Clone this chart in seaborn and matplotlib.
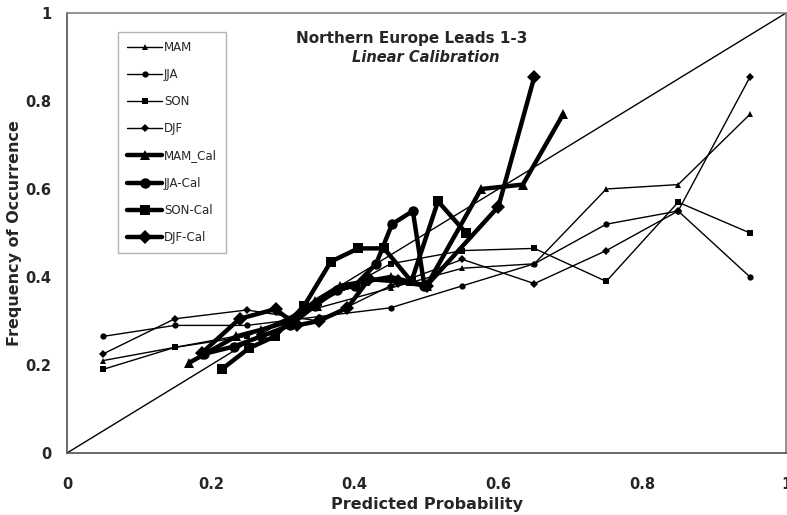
import matplotlib
matplotlib.use("Agg")
import matplotlib.pyplot as plt
import seaborn as sns
import numpy as np

# ---- data ----
prob_bins = [0.05, 0.15, 0.25, 0.35, 0.45, 0.55, 0.65, 0.75, 0.85, 0.95]
mam = [0.21, 0.24, 0.27, 0.33, 0.375, 0.42, 0.43, 0.60, 0.61, 0.77]
jja = [0.265, 0.29, 0.29, 0.31, 0.33, 0.38, 0.43, 0.52, 0.55, 0.40]
son = [0.19, 0.24, 0.265, 0.34, 0.43, 0.46, 0.465, 0.39, 0.57, 0.50]
djf = [0.225, 0.305, 0.325, 0.30, 0.38, 0.44, 0.385, 0.46, 0.55, 0.855]

mam_cal_x = [0.17, 0.235, 0.27, 0.31, 0.345, 0.38, 0.415, 0.45, 0.50, 0.576, 0.634, 0.69]
mam_cal_y = [0.205, 0.265, 0.28, 0.30, 0.345, 0.38, 0.39, 0.40, 0.38, 0.60, 0.61, 0.77]
jja_cal_x = [0.19, 0.232, 0.27, 0.31, 0.345, 0.375, 0.40, 0.43, 0.452, 0.481, 0.497]
jja_cal_y = [0.225, 0.242, 0.265, 0.29, 0.335, 0.37, 0.38, 0.43, 0.52, 0.55, 0.38]
son_cal_x = [0.215, 0.253, 0.289, 0.33, 0.367, 0.405, 0.441, 0.479, 0.516, 0.555]
son_cal_y = [0.19, 0.238, 0.265, 0.335, 0.435, 0.465, 0.465, 0.39, 0.572, 0.50]
djf_cal_x = [0.188, 0.24, 0.29, 0.32, 0.35, 0.39, 0.42, 0.46, 0.50, 0.60, 0.65]
djf_cal_y = [0.228, 0.305, 0.327, 0.29, 0.30, 0.33, 0.395, 0.39, 0.38, 0.56, 0.855]

ticks = [0, 0.2, 0.4, 0.6, 0.8, 1]
tick_labels = ["0", "0.2", "0.4", "0.6", "0.8", "1"]

title = "Northern Europe Leads 1-3"
subtitle = "Linear Calibration"

sns.set_theme(style="white")
plt.rcParams['font.family'] = ['DejaVu Sans']

W, H = 787, 515
fig = plt.figure(figsize=(W / 100, H / 100), dpi=100)
ax = fig.add_axes([67 / W, 1 - 453 / H, (786 - 67) / W, (453 - 13) / H])

# diagonal reference
ax.plot([0, 1], [0, 1], color="black", lw=1.0, zorder=1)

thin = dict(color="black", lw=1.0, markersize=4.5, sort=False, estimator=None)
thick = dict(color="black", lw=3.2, markersize=7.5, sort=False, estimator=None)

sns.lineplot(x=prob_bins, y=mam, marker="^", label="MAM", ax=ax, markeredgewidth=0, **thin)
sns.lineplot(x=prob_bins, y=jja, marker="o", label="JJA", ax=ax, markeredgewidth=0, **thin)
sns.lineplot(x=prob_bins, y=son, marker="s", label="SON", ax=ax, markeredgewidth=0, **thin)
sns.lineplot(x=prob_bins, y=djf, marker="D", label="DJF", ax=ax, markeredgewidth=0, **thin)
sns.lineplot(x=mam_cal_x, y=mam_cal_y, marker="^", label="MAM_Cal", ax=ax, markeredgewidth=0, **thick)
sns.lineplot(x=jja_cal_x, y=jja_cal_y, marker="o", label="JJA-Cal", ax=ax, markeredgewidth=0, **thick)
sns.lineplot(x=son_cal_x, y=son_cal_y, marker="s", label="SON-Cal", ax=ax, markeredgewidth=0, **thick)
sns.lineplot(x=djf_cal_x, y=djf_cal_y, marker="D", label="DJF-Cal", ax=ax, markeredgewidth=0, **thick)

ax.set_xlim(0, 1)
ax.set_ylim(0, 1)
ax.set_xticks(ticks)
ax.set_xticklabels(tick_labels, fontsize=10.5, fontweight="bold")
ax.set_yticks(ticks)
ax.set_yticklabels(tick_labels, fontsize=10.5, fontweight="bold")
ax.tick_params(axis="both", length=3, color="#c8c8c8", direction="out")
ax.tick_params(axis="x", pad=14)
ax.tick_params(axis="y", pad=8)
ax.set_xlabel("Predicted Probability", fontsize=11.5, fontweight="bold")
ax.set_ylabel("Frequency of Occurrence", fontsize=11.5, fontweight="bold")
ax.xaxis.set_label_coords(0.5, (453 - 505) / 440)
ax.xaxis.label.set_va("center")
ax.yaxis.set_label_coords((15 - 67) / 719, 0.5)
ax.yaxis.label.set_va("center")

for side, sp in ax.spines.items():
    sp.set_visible(True)
    sp.set_linewidth(1.2)
    sp.set_color("#808080")
ax.spines["left"].set_color("#505050")
ax.spines["bottom"].set_color("#505050")

leg = ax.legend(loc="upper left", bbox_to_anchor=((118 - 67) / 719, 1 - (32 - 13) / 440),
                frameon=True, fancybox=False, fontsize=8.5, handlelength=3.0,
                labelspacing=1.2, borderpad=0.75, handletextpad=0.15, borderaxespad=0)
leg.get_frame().set_edgecolor("#a0a0a0")
leg.get_frame().set_linewidth(1.0)

fig.text(412 / W, 1 - 38 / H, title, ha="center", va="center", fontsize=11, fontweight="bold")
fig.text(426 / W, 1 - 57 / H, subtitle, ha="center", va="center", fontsize=10.5,
         fontweight="bold", fontstyle="italic")

fig.savefig("out.png", dpi=100)
